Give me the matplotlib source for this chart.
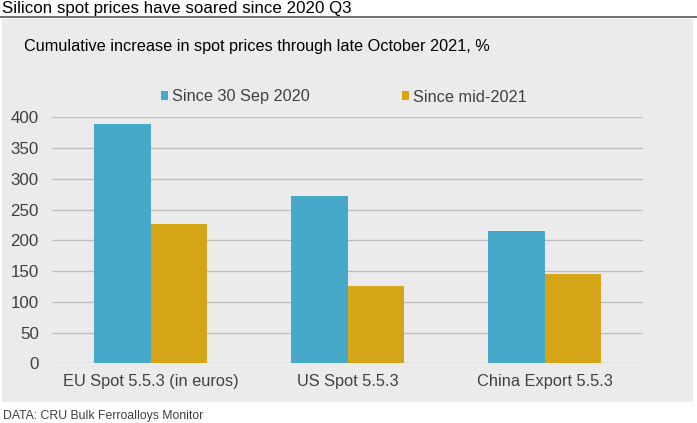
import matplotlib
matplotlib.use("Agg")
import matplotlib.pyplot as plt
from matplotlib.patches import Rectangle
from matplotlib.lines import Line2D
import numpy as np

plt.rcParams['font.family'] = ['Liberation Sans', 'DejaVu Sans']

# chart data
categories = ["EU Spot 5.5.3 (in euros)", "US Spot 5.5.3", "China Export 5.5.3"]
since_sep_2020 = [389, 272, 215]
since_mid_2021 = [226, 126, 145]
series_labels = ["Since 30 Sep 2020", "Since mid-2021"]
y_ticks = [0, 50, 100, 150, 200, 250, 300, 350, 400]

title = "Silicon spot prices have soared since 2020 Q3"
subtitle = "Cumulative increase in spot prices through late October 2021, %"
source = "DATA: CRU Bulk Ferroalloys Monitor"

blue = "#46a9c9"
gold = "#d4a517"
panel_bg = "#ebebeb"
grid_col = "#bfbfbf"
text_col = "#404040"

W, H = 697, 423
fig = plt.figure(figsize=(W / 100, H / 100), dpi=100)
fig.patch.set_facecolor("white")

def fx(px):
    return px / W

def fy(py):
    return 1 - py / H

# grey panel and title rule
fig.patches.append(Rectangle((fx(2), fy(402)), fx(693) - fx(2), fy(19) - fy(402),
                             transform=fig.transFigure, facecolor=panel_bg,
                             edgecolor="none", zorder=-10))
fig.lines.append(Line2D([0, 1], [fy(17.5), fy(17.5)], transform=fig.transFigure,
                        color="#595959", linewidth=1.2))

fig.text(fx(2), fy(8), title, fontsize=12.2, color="black", va="center", ha="left")
fig.text(fx(24), fy(47), subtitle, fontsize=11.7, color="black", va="center", ha="left")
fig.text(fx(3), fy(416), source, fontsize=8.8, color=text_col, va="center", ha="left")

ax = fig.add_axes([fx(52), fy(363.3), fx(643) - fx(52), fy(117.3) - fy(363.3)])
ax.set_facecolor("none")
ax.set_zorder(5)

x = np.arange(len(categories))
bw = 0.285
b1 = ax.bar(x - bw / 2, since_sep_2020, bw, color=blue, label=series_labels[0], zorder=3)
b2 = ax.bar(x + bw / 2, since_mid_2021, bw, color=gold, label=series_labels[1], zorder=3)

ax.set_xlim(-0.5, len(categories) - 0.5)
ax.set_ylim(0, 400)
ax.set_yticks(y_ticks)
ax.set_xticks(x)
ax.set_xticklabels(categories)
ax.tick_params(axis="both", length=0, labelcolor=text_col)
ax.tick_params(axis="y", pad=9.5, labelsize=12.2)
ax.tick_params(axis="x", pad=8, labelsize=11.8)
ax.yaxis.grid(True, color=grid_col, linewidth=1)
ax.set_axisbelow(True)
for s in ax.spines.values():
    s.set_visible(False)

fig.legend(handles=[b1, b2], labels=series_labels, loc="center",
           bbox_to_anchor=(fx(344), fy(97)), ncol=2, frameon=False,
           fontsize=11.7, handlelength=0.43, handleheight=0.43, handletextpad=0.25,
           columnspacing=5.7, labelcolor=text_col)

fig.savefig("out.png", dpi=100, facecolor="white")
